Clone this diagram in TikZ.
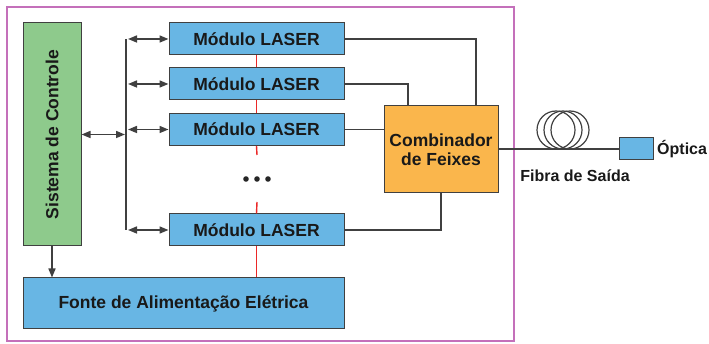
\documentclass[tikz,border=0pt]{standalone}
\usepackage{fontspec}
\setmainfont{Liberation Sans}
\usetikzlibrary{arrows.meta}

\definecolor{modblue}{RGB}{104,182,228}
\definecolor{ctrlgreen}{RGB}{142,202,140}
\definecolor{combor}{RGB}{250,182,76}
\definecolor{wire}{RGB}{64,64,64}
\definecolor{frame}{RGB}{196,112,186}
\definecolor{power}{RGB}{235,40,40}

\tikzset{
  blk/.style={draw=wire, line width=1pt, inner sep=0pt, text=black!90, font=\bfseries\fontsize{17.5}{20}\selectfont},
  modbox/.style={blk, fill=modblue, minimum width=175, minimum height=32},
  wireline/.style={draw=wire, line width=1.6pt},
  tip/.style={},
  bidir/.style={wireline, {Triangle[length=9pt,width=7pt]}-{Triangle[length=9pt,width=7pt]}},
  onedir/.style={wireline, -{Triangle[length=9pt,width=7pt]}},
  supply/.style={draw=power, line width=1.4pt},
  outlabel/.style={font=\bfseries\fontsize{16}{19}\selectfont, inner sep=0pt, text=black!90}
}

\begin{document}
\begin{tikzpicture}[x=1pt,y=-1pt]
\useasboundingbox (0,0) rectangle (709,344);

% equipment enclosure
\draw[frame, line width=1.5pt] (7,7) rectangle (514,341);

% control unit
\node[blk, fill=ctrlgreen, minimum width=58, minimum height=223] (ctrl) at (52,134.5)
  {\rotatebox{90}{Sistema de Controle}};

% laser modules
\node[modbox] (m1) at (256.5,39) {Módulo LASER};
\node[modbox] (m2) at (256.5,84) {Módulo LASER};
\node[modbox] (m3) at (256.5,129.5) {Módulo LASER};
\node[modbox] (m4) at (256.5,230) {Módulo LASER};

% power supply
\node[blk, fill=modblue, minimum width=321, minimum height=51] (psu) at (183.5,303.5)
  {Fonte de Alimentação Elétrica};

% beam combiner
\node[blk, fill=combor, minimum width=114, minimum height=87, align=center] (comb) at (441,149.5)
  {Combinador\\[-1pt]de Feixes};

% output optics
\node[draw=wire, line width=1pt, fill=modblue, minimum width=34, minimum height=22, inner sep=0pt] (opt) at (636,149) {};
\node[outlabel, anchor=west] (optlbl) at (657,149) {Óptica};
\node[outlabel] (fiblbl) at (575,176) {Fibra de Saída};

% control bus
\coordinate (b1) at (126,39);
\coordinate (b2) at (126,84);
\coordinate (b3) at (126,129.5);
\coordinate (b4) at (126,230);
\coordinate (bc) at (126,134.5);
\draw[wireline] (b1) -- (b4);
\draw[bidir] ([xshift=2pt]b1) -- (m1.west);
\draw[bidir] ([xshift=2pt]b2) -- (m2.west);
\draw[bidir] ([xshift=2pt]b3) -- (m3.west);
\draw[bidir] ([xshift=2pt]b4) -- (m4.west);
\draw[bidir] (ctrl.east) -- ([xshift=-1pt]bc);
\draw[onedir] (ctrl.south) -- (ctrl.south |- psu.north);

% supply rail
\coordinate (r1) at (257,155);
\coordinate (r2) at (257,202);
\draw[supply] (m1.south) -- (m2.north);
\draw[supply] (m2.south) -- (m3.north);
\draw[supply] (m3.south) -- (r1);
\draw[supply] (r2) -- (m4.north);
\draw[supply] (m4.south) -- (m4.south |- psu.north);

% ellipsis for further modules
\foreach \dx in {-11,0,11}
  \fill[black!85] (257+\dx,179) circle (2.8pt);

% fibres into the combiner
\draw[wireline] (m1.east) -| ([xshift=35pt]comb.north);
\draw[wireline] (m2.east) -| ([xshift=-33pt]comb.north);
\draw[wireline] (m3.east) -- (m3.east -| comb.west);
\draw[wireline] (m4.east) -| (comb.south);

% output fibre with coil
\draw[wireline] (comb.east |- opt.west) -- (opt.west);
\foreach \cx in {556,563,570}
  \draw[wire, line width=1.2pt] (\cx,130) circle (19pt);
\end{tikzpicture}
\end{document}
